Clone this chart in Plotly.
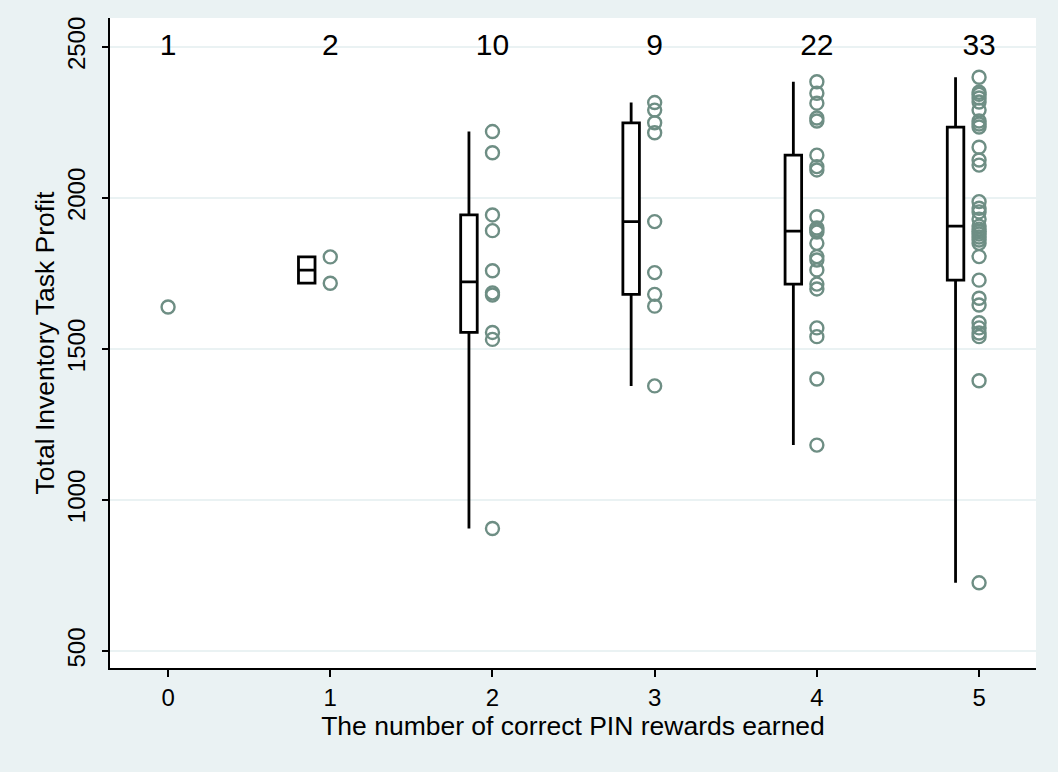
import math
import plotly.graph_objects as go

# ---- data ----
groups = [0, 1, 2, 3, 4, 5]
counts = ["1", "2", "10", "9", "22", "33"]
g0 = [1639]
g1 = [1805, 1718]
g2 = [2220, 2150, 1944, 1892, 1759, 1686, 1679, 1555, 1532, 906]
g3 = [2316, 2291, 2249, 2216, 1922, 1753, 1681, 1642, 1378]
g4 = [2385, 2347, 2314, 2265, 2255, 2142, 2104, 2093, 1938, 1901, 1894,
      1887, 1850, 1806, 1795, 1762, 1715, 1699, 1570, 1541, 1401, 1182]
g5 = [2400, 2350, 2343, 2331, 2318, 2291, 2255, 2245, 2235, 2168, 2126,
      2109, 1988, 1966, 1954, 1930, 1907, 1897, 1889, 1881, 1871, 1861,
      1850, 1806, 1728, 1668, 1646, 1587, 1570, 1553, 1541, 1395, 726]
series = [g0, g1, g2, g3, g4, g5]

y_ticks = [500, 1000, 1500, 2000, 2500]
x_title = "The number of correct PIN rewards earned"
y_title = "Total Inventory Task Profit"

# ---- style ----
FONT = "Liberation Sans, Arial, sans-serif"
MARKER_COLOR = "#6E8E84"
BG = "#EAF2F3"
BOX_OFFSET = -0.145
BOX_WIDTH = 0.102


def stata_pct(vals, p):
    s = sorted(vals)
    n = len(s)
    k = n * p
    if abs(k - round(k)) < 1e-9:
        k = int(round(k))
        if k >= n:
            return s[-1]
        if k == 0:
            return s[0]
        return (s[k - 1] + s[k]) / 2.0
    return s[math.ceil(k) - 1]


fig = go.Figure()

for g, vals in zip(groups, series):
    if len(vals) < 2:
        continue
    fig.add_trace(go.Box(
        x=[g + BOX_OFFSET],
        q1=[stata_pct(vals, 0.25)],
        median=[stata_pct(vals, 0.5)],
        q3=[stata_pct(vals, 0.75)],
        lowerfence=[min(vals)],
        upperfence=[max(vals)],
        width=BOX_WIDTH,
        whiskerwidth=0,
        fillcolor="white",
        line=dict(color="black", width=2.8),
        boxpoints=False,
        showlegend=False,
        hoverinfo="skip",
    ))

for g, vals in zip(groups, series):
    fig.add_trace(go.Scatter(
        x=[g] * len(vals),
        y=vals,
        mode="markers",
        marker=dict(symbol="circle-open", size=13, color=MARKER_COLOR,
                    line=dict(width=2.4, color=MARKER_COLOR)),
        showlegend=False,
    ))

fig.add_trace(go.Scatter(
    x=groups,
    y=[2500] * len(groups),
    mode="text",
    text=counts,
    textposition="middle center",
    textfont=dict(family=FONT, size=30, color="black"),
    showlegend=False,
))

fig.update_layout(
    width=1058,
    height=772,
    paper_bgcolor=BG,
    plot_bgcolor="white",
    margin=dict(l=110, r=22, t=18, b=104),
    font=dict(family=FONT, size=24, color="black"),
    xaxis=dict(
        range=[-0.358, 5.351],
        tickmode="array",
        tickvals=groups,
        ticktext=[str(g) for g in groups],
        ticks="outside",
        ticklen=7,
        tickwidth=1.5,
        tickcolor="black",
        showline=True,
        linecolor="black",
        linewidth=1.5,
        showgrid=False,
        zeroline=False,
        tickfont=dict(size=24),
        title=dict(text=x_title, font=dict(size=26.5), standoff=4),
    ),
    yaxis=dict(
        range=[444, 2596],
        tickmode="array",
        tickvals=y_ticks,
        ticktext=[str(v) for v in y_ticks],
        tickangle=-90,
        ticks="outside",
        ticklen=6,
        tickwidth=1.5,
        tickcolor="black",
        ticklabelstandoff=8,
        showline=True,
        linecolor="black",
        linewidth=1.5,
        showgrid=True,
        gridcolor=BG,
        gridwidth=1.5,
        zeroline=False,
        tickfont=dict(size=24),
        title=dict(text=y_title, font=dict(size=26.5), standoff=0),
    ),
)

fig.write_html("out.html",
               config={"displayModeBar": False},
               post_script="document.body.style.margin='0';document.body.style.padding='0';")
